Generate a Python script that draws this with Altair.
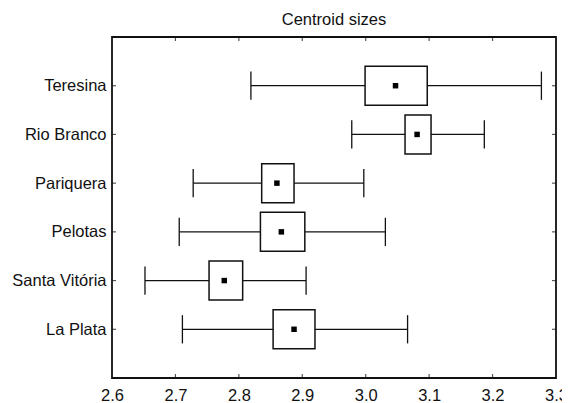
import altair as alt
import pandas as pd

cities = ["Teresina", "Rio Branco", "Pariquera", "Pelotas", "Santa Vitória", "La Plata"]
positions = [6, 5, 4, 3, 2, 1]
whisk_lo = [2.819, 2.978, 2.728, 2.706, 2.652, 2.711]
box_lo = [2.999, 3.062, 2.836, 2.834, 2.753, 2.854]
means = [3.047, 3.081, 2.860, 2.867, 2.777, 2.887]
box_hi = [3.097, 3.103, 2.887, 2.904, 2.806, 2.920]
whisk_hi = [3.277, 3.187, 2.997, 3.031, 2.906, 3.066]
x_ticks = [2.6, 2.7, 2.8, 2.9, 3.0, 3.1, 3.2, 3.3]

BOX_HALF = 0.4
CAP_HALF = 0.29
FONT = "Liberation Sans"
FS = 16.5

df = pd.DataFrame({
    "city": cities, "pos": positions, "wlo": whisk_lo, "blo": box_lo,
    "mean": means, "bhi": box_hi, "whi": whisk_hi,
})
df["box_y"] = df["pos"] - BOX_HALF
df["box_y2"] = df["pos"] + BOX_HALF
df["cap_y"] = df["pos"] - CAP_HALF
df["cap_y2"] = df["pos"] + CAP_HALF

label_expr = " : ".join(
    [f"datum.value == {p} ? '{c}'" for p, c in zip(positions, cities)]
) + " : ''"

xscale = alt.Scale(domain=[2.6, 3.3], nice=False, zero=False)
yscale = alt.Scale(domain=[0, 7], nice=False, zero=False)

xaxis = alt.Axis(values=x_ticks, format=".1f", title=None, grid=False, domain=False,
                 ticks=False, labelFont=FONT, labelFontSize=FS, labelColor="#111",
                 labelPadding=9, labelFlush=False)
yaxis = alt.Axis(values=positions, labelExpr=label_expr, title=None, grid=False,
                 domain=False, ticks=False, labelFont=FONT, labelFontSize=FS,
                 labelColor="#111", labelPadding=6)

base = alt.Chart(df)

whisker = base.mark_rule(color="#111", strokeWidth=1.3).encode(
    x=alt.X("wlo:Q", scale=xscale, axis=xaxis),
    x2="whi:Q",
    y=alt.Y("pos:Q", scale=yscale, axis=yaxis),
)
cap_lo = base.mark_rule(color="#111", strokeWidth=1.3).encode(
    x="wlo:Q", y="cap_y:Q", y2="cap_y2:Q")
cap_hi = base.mark_rule(color="#111", strokeWidth=1.3).encode(
    x="whi:Q", y="cap_y:Q", y2="cap_y2:Q")
box = base.mark_rect(fill="white", stroke="#111", strokeWidth=1.5).encode(
    x="blo:Q", x2="bhi:Q", y="box_y:Q", y2="box_y2:Q")
mean_pt = base.mark_square(color="black", size=30, opacity=1).encode(
    x="mean:Q", y="pos:Q")

# inward tick marks on all four sides (clipped to the frame)
xt = pd.DataFrame({"v": x_ticks[1:-1]})
yt = pd.DataFrame({"p": positions})
tick_bottom = alt.Chart(xt).mark_tick(orient="vertical", size=8, thickness=1.2,
                                      color="#111", clip=True).encode(
    x="v:Q", y=alt.datum(0))
tick_top = alt.Chart(xt).mark_tick(orient="vertical", size=8, thickness=1.2,
                                   color="#111", clip=True).encode(
    x="v:Q", y=alt.datum(7))
tick_left = alt.Chart(yt).mark_tick(orient="horizontal", size=8, thickness=1.2,
                                    color="#111", clip=True).encode(
    x=alt.datum(2.6), y="p:Q")
tick_right = alt.Chart(yt).mark_tick(orient="horizontal", size=8, thickness=1.2,
                                     color="#111", clip=True).encode(
    x=alt.datum(3.3), y="p:Q")

chart = alt.layer(
    tick_bottom, tick_top, tick_left, tick_right,
    whisker, cap_lo, cap_hi, box, mean_pt,
).properties(
    width=444, height=341,
    title="Centroid sizes",
    autosize=alt.AutoSizeParams(type="none"),
    padding={"left": 104, "top": 29, "right": 6, "bottom": 24},
).configure(
    background="white",
    view=alt.ViewConfig(stroke="#111", strokeWidth=1.8),
    title=alt.TitleConfig(font=FONT, fontSize=FS, fontWeight="normal", color="#111",
                          anchor="middle", frame="group", offset=9),
)

chart.save("out.html", embed_options={"renderer": "svg", "actions": False})
